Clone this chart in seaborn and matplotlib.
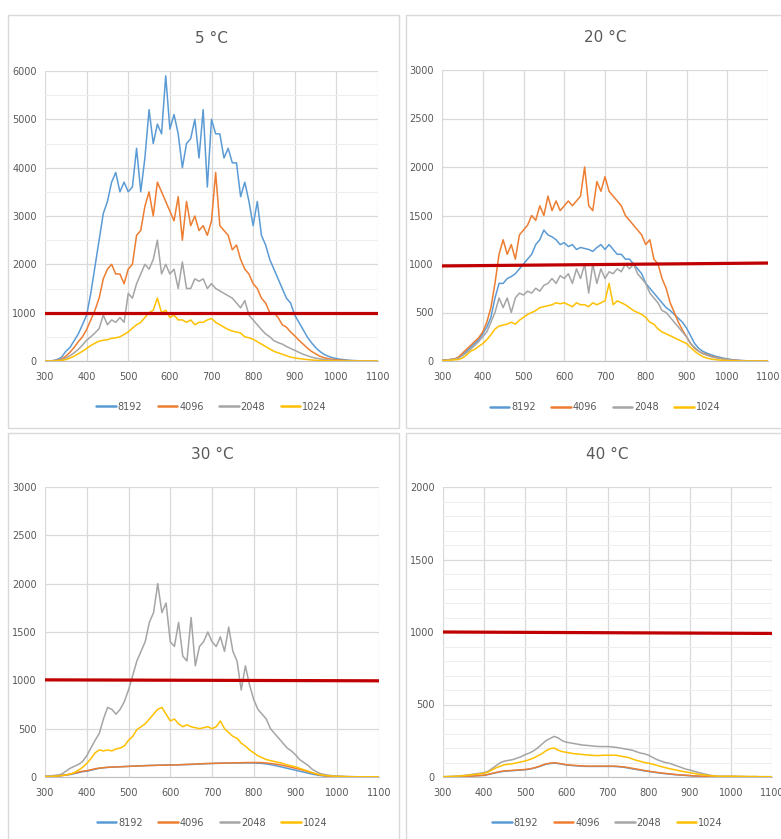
import pandas as pd
import matplotlib.pyplot as plt
from matplotlib.patches import Rectangle
from matplotlib.ticker import MultipleLocator
import seaborn as sns

# wavelength grid (nm), 10 nm steps
wavelengths = list(range(300, 1101, 10))
exposures = ["8192", "4096", "2048", "1024"]

# ---- 5 °C ----
t5_8192 = [0, 0, 10, 30, 80, 200, 280, 420, 560, 750,
           950, 1400, 1950, 2500, 3050, 3300, 3700, 3900, 3500, 3700,
           3500, 3600, 4400, 3500, 4200, 5200, 4500, 4900, 4700, 5900,
           4800, 5100, 4700, 4000, 4500, 4600, 5000, 4200, 5200, 3600,
           5000, 4700, 4700, 4200, 4400, 4100, 4100, 3400, 3700, 3300,
           2800, 3300, 2600, 2400, 2100, 1900, 1700, 1500, 1300, 1200,
           950, 800, 650, 500, 380, 280, 200, 140, 100, 70,
           50, 35, 25, 15, 10, 6, 4, 2, 1, 0,
           0]
t5_4096 = [0, 0, 5, 15, 40, 100, 180, 280, 400, 500,
           650, 850, 1050, 1300, 1700, 1900, 2000, 1800, 1800, 1600,
           1900, 2000, 2600, 2700, 3200, 3500, 3000, 3700, 3500, 3300,
           3100, 2900, 3400, 2500, 3300, 2800, 3000, 2700, 2800, 2600,
           2900, 3900, 2800, 2700, 2600, 2300, 2400, 2100, 1900, 1800,
           1600, 1500, 1300, 1200, 1000, 1000, 900, 750, 700, 600,
           520, 430, 350, 270, 200, 150, 100, 70, 50, 35,
           25, 18, 12, 8, 5, 3, 2, 1, 0, 0,
           0]
t5_2048 = [0, 0, 3, 10, 25, 60, 110, 170, 240, 330,
           430, 500, 580, 670, 950, 750, 850, 800, 900, 800,
           1400, 1300, 1600, 1800, 2000, 1900, 2100, 2500, 1800, 2000,
           1800, 1900, 1500, 2050, 1500, 1500, 1700, 1650, 1700, 1500,
           1600, 1500, 1450, 1400, 1350, 1300, 1200, 1100, 1250, 950,
           850, 750, 650, 560, 500, 420, 380, 350, 300, 260,
           220, 180, 140, 110, 80, 60, 45, 30, 20, 15,
           10, 6, 4, 2, 1, 0, 0, 0, 0, 0,
           0]
t5_1024 = [0, 0, 2, 5, 12, 30, 60, 100, 150, 200,
           260, 320, 370, 410, 430, 440, 470, 480, 500, 550,
           600, 680, 750, 800, 900, 1000, 1050, 1300, 1000, 1050,
           900, 950, 850, 850, 800, 850, 750, 800, 800, 850,
           880, 800, 750, 700, 650, 620, 600, 580, 500, 480,
           450, 400, 350, 300, 250, 200, 170, 140, 110, 80,
           65, 50, 40, 30, 22, 15, 10, 7, 5, 3,
           2, 1, 0, 0, 0, 0, 0, 0, 0, 0,
           0]

# ---- 20 °C ----
t20_8192 = [10, 10, 15, 20, 30, 60, 100, 140, 180, 220,
            280, 350, 450, 650, 800, 800, 850, 870, 900, 950,
            1000, 1050, 1100, 1200, 1250, 1350, 1300, 1280, 1250, 1200,
            1220, 1180, 1200, 1150, 1170, 1160, 1150, 1130, 1170, 1200,
            1150, 1200, 1150, 1100, 1100, 1050, 1050, 1000, 950, 900,
            800, 750, 700, 650, 600, 550, 520, 480, 440, 400,
            340, 260, 180, 130, 100, 80, 65, 50, 40, 30,
            22, 15, 10, 7, 4, 2, 1, 0, 0, 0,
            0]
t20_4096 = [10, 10, 15, 20, 40, 80, 120, 160, 200, 240,
            300, 400, 550, 800, 1100, 1250, 1100, 1200, 1050, 1300,
            1350, 1400, 1500, 1450, 1600, 1500, 1700, 1550, 1650, 1550,
            1600, 1650, 1600, 1650, 1700, 2000, 1600, 1550, 1850, 1750,
            1900, 1750, 1700, 1650, 1600, 1500, 1450, 1400, 1350, 1300,
            1200, 1250, 1050, 1000, 850, 750, 600, 500, 400, 320,
            250, 180, 130, 100, 80, 65, 50, 40, 30, 22,
            16, 11, 7, 4, 2, 1, 0, 0, 0, 0,
            0]
t20_2048 = [10, 10, 12, 18, 30, 55, 85, 120, 160, 200,
            250, 300, 400, 500, 650, 550, 650, 500, 650, 700,
            680, 720, 700, 750, 720, 780, 800, 850, 800, 880,
            850, 900, 800, 950, 850, 1000, 700, 1000, 800, 950,
            850, 920, 900, 950, 920, 1000, 950, 1000, 900, 850,
            800, 700, 650, 600, 520, 500, 450, 400, 350, 300,
            250, 180, 140, 100, 75, 60, 45, 35, 28, 22,
            16, 11, 7, 4, 2, 1, 0, 0, 0, 0,
            0]
t20_1024 = [5, 5, 8, 12, 15, 30, 60, 100, 120, 150,
            180, 220, 270, 330, 360, 370, 380, 400, 380, 420,
            450, 480, 500, 520, 550, 560, 570, 580, 600, 590,
            600, 580, 560, 600, 580, 580, 560, 600, 580, 600,
            620, 800, 580, 620, 600, 580, 550, 520, 500, 480,
            450, 400, 380, 330, 300, 280, 260, 240, 220, 200,
            180, 140, 100, 70, 45, 30, 20, 14, 10, 7,
            5, 3, 2, 1, 0, 0, 0, 0, 0, 0,
            0]

# ---- 30 °C ----
t30_8192 = [5, 5, 8, 10, 15, 20, 25, 35, 45, 55,
            60, 70, 80, 90, 95, 100, 102, 104, 106, 108,
            110, 112, 114, 116, 118, 120, 120, 122, 122, 124,
            125, 126, 127, 128, 129, 130, 132, 134, 136, 138,
            140, 141, 142, 143, 144, 145, 145, 145, 145, 145,
            145, 143, 140, 135, 128, 120, 110, 100, 90, 80,
            70, 60, 50, 40, 30, 22, 15, 10, 7, 5,
            4, 3, 2, 2, 2, 2, 2, 2, 2, 2,
            2]
t30_4096 = [5, 5, 8, 10, 15, 22, 30, 40, 50, 60,
            65, 75, 85, 92, 96, 100, 102, 104, 106, 108,
            110, 112, 114, 115, 117, 118, 120, 121, 122, 123,
            124, 125, 126, 128, 130, 132, 134, 136, 138, 140,
            141, 142, 143, 144, 145, 146, 147, 148, 149, 150,
            150, 150, 148, 145, 140, 135, 128, 120, 110, 100,
            90, 80, 68, 55, 42, 30, 20, 14, 10, 7,
            5, 4, 3, 3, 2, 2, 2, 2, 2, 2,
            2]
t30_2048 = [10, 10, 15, 20, 30, 60, 90, 110, 130, 160,
            220, 300, 380, 450, 600, 720, 700, 650, 700, 780,
            900, 1050, 1200, 1300, 1400, 1600, 1700, 2000, 1700, 1800,
            1400, 1350, 1600, 1250, 1200, 1650, 1150, 1350, 1400, 1500,
            1400, 1350, 1450, 1300, 1550, 1300, 1200, 900, 1150, 950,
            800, 700, 650, 600, 500, 450, 400, 350, 300, 270,
            230, 180, 150, 120, 80, 55, 35, 25, 18, 12,
            10, 8, 6, 4, 3, 2, 1, 0, 0, 0,
            0]
t30_1024 = [5, 5, 8, 10, 15, 20, 30, 45, 70, 100,
            140, 190, 250, 280, 270, 280, 270, 290, 300, 320,
            380, 420, 490, 520, 550, 600, 650, 700, 720, 650,
            580, 600, 550, 520, 540, 520, 510, 500, 510, 520,
            500, 520, 580, 500, 460, 420, 400, 350, 320, 280,
            250, 220, 200, 180, 170, 160, 150, 140, 125, 115,
            105, 90, 75, 60, 45, 32, 22, 16, 12, 9,
            7, 5, 4, 3, 3, 2, 2, 2, 2, 2,
            2]

# ---- 40 °C ----
t40_8192 = [1, 1, 2, 2, 3, 4, 5, 6, 8, 10,
            12, 17, 24, 30, 36, 40, 42, 44, 46, 48,
            50, 54, 60, 68, 78, 88, 93, 96, 93, 88,
            83, 80, 78, 76, 74, 73, 73, 73, 73, 73,
            73, 73, 72, 70, 67, 62, 57, 52, 47, 42,
            38, 34, 30, 26, 23, 20, 17, 15, 13, 11,
            9, 7, 5, 4, 3, 3, 2, 2, 2, 2,
            2, 2, 1, 1, 1, 1, 1, 1, 1, 1,
            1]
t40_4096 = [1, 1, 2, 2, 3, 4, 5, 6, 8, 10,
            12, 18, 25, 32, 38, 42, 44, 46, 48, 50,
            52, 56, 62, 70, 80, 90, 95, 98, 95, 90,
            85, 82, 80, 78, 76, 75, 75, 75, 75, 75,
            75, 75, 75, 72, 70, 65, 60, 55, 50, 45,
            40, 36, 32, 28, 25, 22, 19, 16, 14, 12,
            10, 8, 6, 5, 4, 3, 3, 2, 2, 2,
            2, 2, 1, 1, 1, 1, 1, 1, 1, 1,
            1]
t40_2048 = [2, 3, 4, 5, 8, 10, 14, 18, 22, 26,
            30, 40, 60, 80, 100, 110, 115, 120, 130, 140,
            155, 165, 180, 200, 225, 250, 265, 280, 270, 250,
            240, 235, 230, 225, 220, 218, 215, 212, 210, 210,
            210, 208, 205, 200, 195, 190, 185, 175, 165, 160,
            150, 135, 120, 110, 100, 95, 85, 75, 65, 55,
            48, 40, 32, 25, 18, 12, 8, 6, 5, 5,
            5, 5, 4, 4, 3, 3, 3, 2, 2, 2,
            2]
t40_1024 = [2, 3, 4, 5, 7, 9, 12, 15, 18, 22,
            25, 35, 50, 65, 75, 85, 88, 92, 98, 105,
            110, 120, 130, 145, 160, 180, 195, 200, 185, 175,
            170, 165, 160, 158, 155, 152, 150, 148, 148, 150,
            150, 150, 150, 145, 140, 135, 125, 115, 108, 100,
            95, 88, 80, 72, 65, 58, 52, 46, 40, 35,
            30, 25, 20, 15, 12, 9, 7, 5, 5, 5,
            5, 5, 4, 4, 3, 3, 3, 2, 2, 2,
            2]

# 1000-count reference line (start, end) per panel
red_x = [300, 1100]
red_5 = [1000, 1000]
red_20 = [980, 1010]
red_30 = [1005, 995]
red_40 = [1000, 990]

panels = [
    ("5 °C", [t5_8192, t5_4096, t5_2048, t5_1024], red_5, 6000, 1000, 500),
    ("20 °C", [t20_8192, t20_4096, t20_2048, t20_1024], red_20, 3000, 500, None),
    ("30 °C", [t30_8192, t30_4096, t30_2048, t30_1024], red_30, 3000, 500, None),
    ("40 °C", [t40_8192, t40_4096, t40_2048, t40_1024], red_40, 2000, 500, 100),
]

palette = {"8192": "#5B9BD5", "4096": "#ED7D31", "2048": "#A5A5A5", "1024": "#FFC000"}
text_col = "#595959"

sns.set_style("white")
plt.rcParams["font.family"] = ["Liberation Sans Narrow", "DejaVu Sans"]

fig = plt.figure(figsize=(7.81, 8.39), dpi=100)

W, H = 781, 839
# plot areas in pixels: left, top, right, bottom
boxes = [(45, 71, 378, 361), (442, 70, 768, 361), (45, 487, 379, 777), (443, 487, 772, 777)]
frames = [(8, 15, 399, 428), (406, 15, 790, 428), (8, 433, 399, 850), (406, 433, 790, 850)]

for (l, t, r, b) in frames:
    fig.patches.append(Rectangle((l / W, 1 - b / H), (r - l) / W, (b - t) / H,
                                 transform=fig.transFigure, fill=False,
                                 edgecolor="#D9D9D9", lw=1.0))

for (title, series, red, ymax, major, minor), (l, t, r, b) in zip(panels, boxes):
    ax = fig.add_axes([l / W, 1 - b / H, (r - l) / W, (b - t) / H])
    rows = []
    for name, vals in zip(exposures, series):
        for w, v in zip(wavelengths, vals):
            rows.append({"Wavelength": w, "Counts": v, "Exposure": name})
    df = pd.DataFrame(rows)
    sns.lineplot(data=df, x="Wavelength", y="Counts", hue="Exposure",
                 hue_order=exposures, palette=palette, linewidth=1.1,
                 estimator=None, ax=ax)
    sns.lineplot(x=red_x, y=red, color="#C00000", linewidth=2.3, legend=False, ax=ax)
    sns.move_legend(ax, "center", bbox_to_anchor=(0.5, -0.158), ncol=4,
                    frameon=False, title=None, fontsize=7, handlelength=2.0,
                    handletextpad=0.2, columnspacing=1.6)
    for txt in ax.get_legend().get_texts():
        txt.set_color(text_col)
    for ln in ax.get_legend().get_lines():
        ln.set_linewidth(1.8)

    ax.set_xlim(300, 1100)
    ax.set_ylim(0, ymax)
    ax.xaxis.set_major_locator(MultipleLocator(100))
    ax.yaxis.set_major_locator(MultipleLocator(major))
    ax.grid(True, which="major", color="#D9D9D9", lw=0.9)
    if minor:
        ax.yaxis.set_minor_locator(MultipleLocator(minor))
        ax.grid(True, which="minor", axis="y", color="#EEEEEE", lw=0.7)
    ax.set_axisbelow(True)
    for side in ["top", "right", "left"]:
        ax.spines[side].set_visible(False)
    ax.spines["bottom"].set_color("#BFBFBF")
    ax.tick_params(axis="both", which="both", length=0, labelsize=7, colors=text_col)
    ax.tick_params(axis="x", pad=8)
    ax.tick_params(axis="y", pad=6)
    ax.set_xlabel("")
    ax.set_ylabel("")
    ax.set_title(title, fontsize=11, color=text_col, pad=20)

plt.savefig("out.png", dpi=100)
